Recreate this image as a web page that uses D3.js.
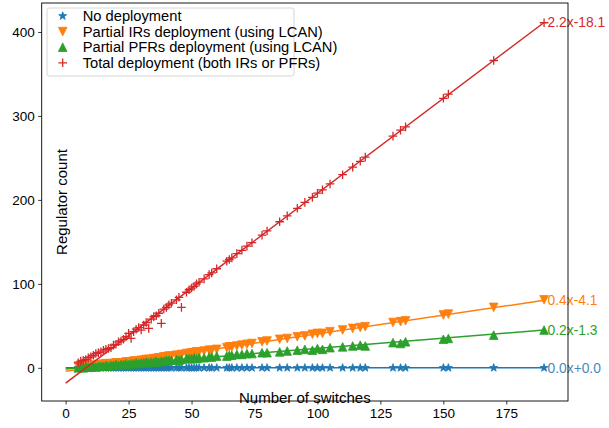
<!DOCTYPE html>
<html><head><meta charset="utf-8">
<script src="https://cdn.jsdelivr.net/npm/d3@7"></script>
<style>body{margin:0;background:#fff}svg{display:block}text{font-family:"Liberation Sans",Arial,sans-serif}</style>
</head><body><svg id="c" width="609" height="428"></svg>
<script>
const switches = [5,6,7,8,9,10,11,12,13,14,15,16,17,18,19,20,21,22,23,24,25,26,27,28,29,30,31,32,33,34,35,36,37,38,39,40,41,42,
44,45,46,48,49,50,51,52,53,55,57,58,60,
64,65,66,68,70,72,74,78,80,85,88,92,95,98,100,102,105,110,114,117,119,130,133,135,150,152,170,190];
const noDeployment = [0,0,0,0,0,0,0,0,0,0,0,0,0,0,0,0,0,0,0,0,0,0,0,0,0,0,0,0,0,0,0,0,0,0,0,0,0,0,
0,0,0,0,0,0,0,0,0,0,0,0,0,
0,0,0,0,0,0,0,0,0,0,0,0,0,0,0,0,0,0,0,0,0,0,0,0,0,0,0,0];
const partialIRs = [2,2,2,3,2,3,3,3,4,4,4,5,4,5,5,6,5,6,6,7,7,7,8,8,8,9,9,10,10,10,11,11,12,12,13,13,14,14,
15,15,16,17,17,18,18,19,19,20,21,21,22,
24,25,25,26,27,28,29,31,32,34,35,37,38,40,41,41,43,45,47,48,49,54,55,56,63,64,72,81];
const partialPFRs = [0,1,0,1,1,1,2,1,2,2,2,3,2,3,3,4,3,4,4,5,4,5,5,6,5,6,6,7,6,7,7,8,7,8,8,9,9,9,
10,9,10,11,11,11,12,11,12,12,13,13,14,
14,15,15,16,16,17,17,18,18,19,20,21,22,21,23,22,24,25,26,27,26,30,29,31,34,35,39,45];
const totalDeployment = [6,8,9,10,12,13,15,17,18,19,21,22,23,24,27,28,31,32,34,37,41,35,43,46,48,45,51,54,47,58,61,62,65,53,70,72,75,77,
81,84,72,90,93,95,97,100,102,106,111,113,118,
127,129,131,136,140,145,149,158,163,174,181,190,197,203,208,212,219,230,239,246,251,276,283,287,321,326,366,411];

const seriesNames = ["No deployment","Partial IRs deployment (using LCAN)","Partial PFRs deployment (using LCAN)","Total deployment (both IRs or PFRs)"];
const fitSlopes = [0.0, 0.445, 0.244, 2.26];
const fitIntercepts = [0.0, -4.1, -1.3, -18.1];
const fitLabels = ["0.0x+0.0","0.4x-4.1","0.2x-1.3","2.2x-18.1"];
const fitRange = [0, 190];
const xTicks = [0,25,50,75,100,125,150,175];
const yTicks = [0,100,200,300,400];
const colors = ["#1f77b4","#ff7f0e","#2ca02c","#d62728"];
const markers = ["star","down","up","plus"];
const values = [noDeployment, partialIRs, partialPFRs, totalDeployment];

const svg = d3.select("#c");
const L=41.7, R=568, T=3, B=401;
const x = d3.scaleLinear().domain([-9.5,199.5]).range([L,R]);
const y = d3.scaleLinear().domain([-39.5,434.5]).range([B,T]);

function markerPath(type){
  const h=4.3;
  if(type==="down") return `M${-h},${-h}L${h},${-h}L0,${h}Z`;
  if(type==="up") return `M${-h},${h}L${h},${h}L0,${-h}Z`;
  if(type==="plus") return `M${-h},0L${h},0M0,${-h}L0,${h}`;
  let p="";const ro=4.2, ri=1.7;
  for(let i=0;i<10;i++){const r=i%2?ri:ro;const a=-Math.PI/2+i*Math.PI/5;p+=(i?"L":"M")+(r*Math.cos(a)).toFixed(2)+","+(r*Math.sin(a)).toFixed(2);}
  return p+"Z";
}
function drawMarker(g,type,color,cx,cy){
  const p=g.append("path").attr("d",markerPath(type)).attr("transform",`translate(${cx},${cy})`);
  if(type==="plus") p.attr("fill","none").attr("stroke",color).attr("stroke-width",1.3);
  else p.attr("fill",color).attr("stroke",color).attr("stroke-width",0.8).attr("stroke-linejoin","round");
}

const plot = svg.append("g");
plot.append("clipPath").attr("id","clip").append("rect").attr("x",L).attr("y",T).attr("width",R-L).attr("height",B-T);
const pg = plot.append("g").attr("clip-path","url(#clip)");

values.forEach((vals,si)=>{
  const g=pg.append("g");
  switches.forEach((sx,i)=>drawMarker(g,markers[si],colors[si],x(sx),y(vals[i])));
  const line=d3.line().x(d=>x(d)).y(d=>y(fitSlopes[si]*d+fitIntercepts[si]));
  g.append("path").attr("d",line(fitRange)).attr("fill","none").attr("stroke",colors[si]).attr("stroke-width",1.5);
});
values.forEach((vals,si)=>{
  svg.append("text").attr("x",x(fitRange[1])+3.5).attr("y",y(fitSlopes[si]*fitRange[1]+fitIntercepts[si]))
    .attr("dy","0.35em").attr("font-size",13.8).attr("fill",colors[si]).attr("opacity",si===0?0.85:1).text(fitLabels[si]);
});

const xAxis = svg.append("g").attr("transform",`translate(0,${B})`)
  .call(d3.axisBottom(x).tickValues(xTicks).tickSize(3.5).tickPadding(3.5).tickFormat(d3.format("d")));
const yAxis = svg.append("g").attr("transform",`translate(${L},0)`)
  .call(d3.axisLeft(y).tickValues(yTicks).tickSize(3.5).tickPadding(3.5).tickFormat(d3.format("d")));
[xAxis,yAxis].forEach(a=>{a.select(".domain").remove();a.selectAll("text").attr("font-size",13.5).attr("fill","#000").style("font-family",'"Liberation Sans",Arial,sans-serif');a.selectAll("line").attr("stroke","#000").attr("stroke-width",0.8);});
svg.append("rect").attr("x",L).attr("y",T).attr("width",R-L).attr("height",B-T).attr("fill","none").attr("stroke","#000").attr("stroke-width",0.9);

svg.append("text").attr("x",(L+R)/2).attr("y",402.5).attr("text-anchor","middle").attr("font-size",15).attr("fill","#000").text("Number of switches");
svg.append("text").attr("transform","translate(66.5,202) rotate(-90)").attr("text-anchor","middle").attr("font-size",15).attr("fill","#000").text("Regulator count");

const lg=svg.append("g");
lg.append("rect").attr("x",47).attr("y",8).attr("width",247).attr("height",68).attr("rx",2.5)
  .attr("fill","#fff").attr("fill-opacity",0.8).attr("stroke","#d0d0d0").attr("stroke-width",0.9);
seriesNames.forEach((n,i)=>{
  const cy=16+i*15.6;
  drawMarker(lg,markers[i],colors[i],62.7,cy);
  lg.append("text").attr("x",82.7).attr("y",cy).attr("dy","0.35em").attr("font-size",14.7).attr("fill","#000").text(n);
});
</script></body></html>
